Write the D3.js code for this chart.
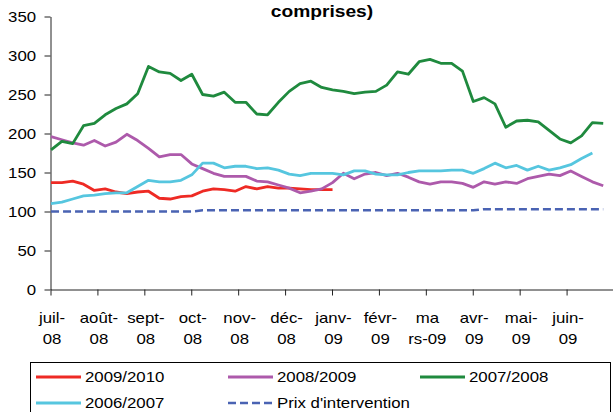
<!DOCTYPE html>
<html><head><meta charset="utf-8">
<script src="https://cdn.jsdelivr.net/npm/d3@7"></script>
<style>body{margin:0;background:#fff}svg{display:block}text{font-family:"Liberation Sans",Arial,sans-serif;fill:#000}</style>
</head><body><svg id="c" width="613" height="412"></svg>
<script>
const monthLine1 = ["juil-","août-","sept-","oct-","nov-","déc-","janv-","févr-","ma","avr-","mai-","juin-"];
const monthLine2 = ["08","08","08","08","08","08","09","09","rs-09","09","09","09"];
const yTicks = [0,50,100,150,200,250,300,350];
const title = "comprises)";

const s2009 = [137,137,139,135,127,129,125,123,125,126,117,116,119,120,126,129,128,126,132,129,132,130,130,129,128,128,128];
const s2008 = [196,192,188,185,191,184,189,199,191,181,170,173,173,161,155,149,145,145,145,139,138,134,130,124,126,129,137,149,142,148,150,146,149,144,138,135,138,138,136,131,138,135,138,136,142,145,148,146,152,145,138,133];
const s2007 = [179,190,187,210,213,224,232,238,251,286,279,277,268,276,250,248,253,240,240,225,224,240,254,264,267,259,256,254,251,253,254,262,279,276,292,295,290,290,280,241,246,238,208,216,217,215,204,193,188,197,214,213];
const s2006 = [110,112,116,120,121,123,124,124,132,140,138,138,140,147,162,162,156,158,158,155,156,153,148,146,149,149,149,147,152,152,148,147,147,150,152,152,152,153,153,149,155,162,156,159,153,158,153,156,160,168,175];
const prix = [100,100,100,100,100,100,100,100,100,100,100,100,100,100,101.5,101.5,101.5,101.5,101.5,101.5,101.5,101.5,101.5,101.5,101.5,101.5,101.5,101.5,101.5,101.5,101.5,101.5,101.5,101.5,101.5,101.5,101.5,101.5,101.5,101.5,103,103,103,103,103,103,103,103,103,103,103,103];

const series = [
  {name:"2009/2010", data:s2009, color:"#ee2a24", dash:null},
  {name:"2008/2009", data:s2008, color:"#ad5aab", dash:null},
  {name:"2007/2008", data:s2007, color:"#1f8a3e", dash:null},
  {name:"2006/2007", data:s2006, color:"#56c6df", dash:null},
  {name:"Prix d'intervention", data:prix, color:"#4a63b3", dash:"8,4"}
];

const svg = d3.select("#c");
const SX = 1.2;
const x = d3.scaleLinear().domain([0,52]).range([50.5,613.5]);
const y = d3.scaleLinear().domain([0,350]).range([289.5,16.5]);

// title
svg.append("text").attr("transform",`translate(322,17) scale(${SX},1)`)
  .attr("text-anchor","middle").style("font-weight","bold").style("font-size","16px").text(title);

// y axis
const ya = svg.append("g").attr("transform","translate(50.5,0)")
  .call(d3.axisLeft(y).tickValues(yTicks).tickSize(6).tickSizeOuter(0).tickFormat(d3.format("d")));
ya.select(".domain").attr("stroke","#222");
ya.selectAll(".tick line").attr("stroke","#222");
ya.selectAll(".tick text").attr("x",-12).attr("dy","0.35em").attr("transform",`scale(${SX},1)`)
  .style("font-size","14px").style("font-family","Liberation Sans, Arial, sans-serif").attr("fill","#000");

// x axis
const monthIdx = d3.range(0,13);
const xa = svg.append("g").attr("transform","translate(0,289.5)")
  .call(d3.axisBottom(x).tickValues(monthIdx.map(m=>m*52/12)).tickSize(6).tickSizeOuter(0).tickFormat(""));
xa.select(".domain").attr("stroke","#222");
xa.selectAll(".tick line").attr("stroke","#222");
monthLine1.forEach((lab,i)=>{
  const px = x(i*52/12)+1.5;
  const t = svg.append("text").attr("transform",`translate(${px},0) scale(${SX},1)`)
    .attr("text-anchor","middle").style("font-size","14px");
  t.append("tspan").attr("x",0).attr("y",323).text(lab);
  t.append("tspan").attr("x",0).attr("y",344).text(monthLine2[i]);
});

// lines
const line = d3.line().x((d,i)=>x(i+0.05)).y(d=>y(d));
series.forEach(s=>{
  svg.append("path").datum(s.data).attr("d",line).attr("fill","none")
    .attr("stroke",s.color).attr("stroke-width",s.dash?2.5:2.8)
    .attr("stroke-linejoin","round")
    .attr("stroke-dasharray",s.dash);
});

// legend
svg.append("rect").attr("x",30.5).attr("y",362.5).attr("width",580).attr("height",60)
  .attr("fill","none").attr("stroke","#000").attr("stroke-width",1);
const legPos = [[36,377],[228,377],[420,377],[36,403],[228,403]];
series.forEach((s,i)=>{
  const [lx,ly] = legPos[i];
  svg.append("line").attr("x1",lx).attr("x2",lx+45).attr("y1",ly).attr("y2",ly)
    .attr("stroke",s.color).attr("stroke-width",s.dash?2.5:2.8).attr("stroke-dasharray",s.dash);
  svg.append("text").attr("transform",`translate(${lx+49},${ly+5}) scale(${SX},1)`)
    .style("font-size","14px").text(s.name);
});
</script></body></html>
